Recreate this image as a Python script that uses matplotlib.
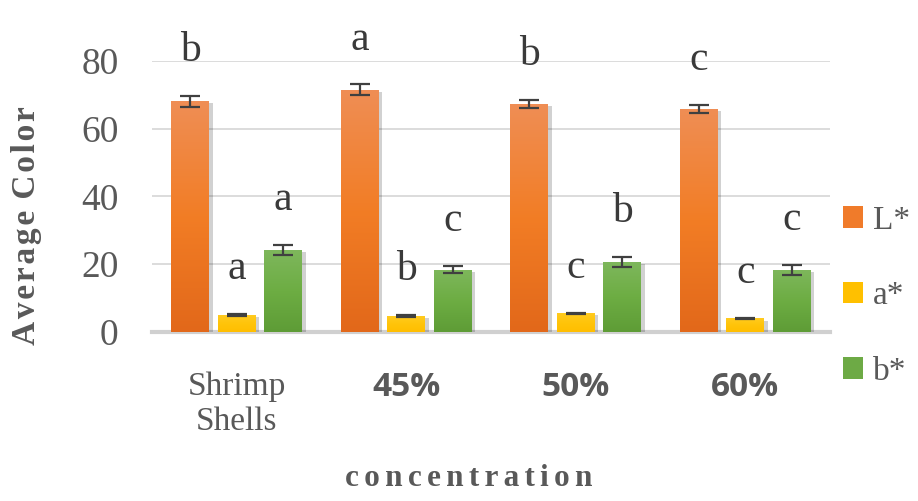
import numpy as np
import matplotlib
matplotlib.use("Agg")
import matplotlib.pyplot as plt
import matplotlib.patheffects as pe
from matplotlib.patches import Patch
from matplotlib.colors import LinearSegmentedColormap

categories = ["Shrimp\nShells", "45%", "50%", "60%"]
series_names = ["L*", "a*", "b*"]
L_vals = [68.0, 71.5, 67.3, 65.8]
L_err = [1.6, 1.5, 1.2, 1.1]
a_vals = [5.0, 4.7, 5.5, 4.0]
a_err = [0.3, 0.2, 0.2, 0.2]
b_vals = [24.1, 18.4, 20.6, 18.4]
b_err = [1.5, 1.0, 1.5, 1.5]
L_letters = ["b", "a", "b", "c"]
a_letters = ["a", "b", "c", "c"]
b_letters = ["a", "c", "b", "c"]
yticks = [0, 20, 40, 60, 80]

values = [L_vals, a_vals, b_vals]
errors = [L_err, a_err, b_err]
letters = [L_letters, a_letters, b_letters]
gradients = [("#EF8E55", "#F27D25", "#E2681A"),
             ("#FFCB20", "#FFC40A", "#FFBE00"),
             ("#7EB75C", "#6DAD43", "#5E9C36")]
base_colors = ["#F07B2A", "#FFC000", "#6DAA45"]

TXT = "#595959"
SERIF = ["Liberation Serif", "DejaVu Serif"]
fig = plt.figure(figsize=(9.18, 5.01), dpi=100)
ax = fig.add_axes([152/918, 1-332/501, 678/918, (332-60.7)/501])

x = np.arange(len(categories))
width = 0.224
step = 0.274
ax.set_xlim(-0.5, 3.5)
ax.set_ylim(0, 80)

for i in range(3):
    pos = x + (i - 1) * step
    bars = ax.bar(pos, values[i], width, color=base_colors[i], zorder=3,
                  path_effects=[pe.SimplePatchShadow(offset=(2.5, -1.5), shadow_rgbFace="#000000", alpha=0.18),
                                pe.Normal()])
    cmap = LinearSegmentedColormap.from_list("g%d" % i, list(gradients[i]))
    grad = np.linspace(0, 1, 256).reshape(-1, 1)
    for b in bars:
        x0, y0 = b.get_x(), b.get_y()
        w, h = b.get_width(), b.get_height()
        im = ax.imshow(grad, cmap=cmap, aspect="auto", origin="upper",
                       extent=[x0, x0 + w, y0, y0 + h], zorder=3.5)
        im.set_clip_path(b)
    ax.errorbar(pos, values[i], yerr=errors[i], fmt="none", ecolor="#404040",
                elinewidth=1.6, capsize=7, capthick=1.6, zorder=5)
    for p, v, e, t in zip(pos, values[i], errors[i], letters[i]):
        ax.text(p, v + e + 10.3, t, ha="center", va="baseline", fontsize=30,
                family=SERIF, color="#3A3A3A", zorder=6, clip_on=False)

ax.set_xlim(-0.5, 3.5)
ax.set_ylim(0, 80)
ax.set_yticks(yticks)
ax.set_yticklabels([str(t) for t in yticks], family=SERIF, fontsize=27, color=TXT)
ax.tick_params(axis="y", length=0, pad=24)
ax.set_xticks(x)
ax.set_xticklabels([])
ax.tick_params(axis="x", length=0)
xt = ax.get_xaxis_transform()
for k, lab in enumerate(categories):
    if k == 0:
        ax.text(x[k], -0.266, lab, transform=xt, ha="center", va="center",
                family=SERIF, fontsize=24, linespacing=1.2, color=TXT, clip_on=False)
    else:
        ax.text(x[k], -0.203, lab, transform=xt, ha="center", va="center",
                family="Open Sans", fontweight="bold", fontsize=24, color=TXT, clip_on=False)

ax.grid(axis="y", color="#D9D9D9", linewidth=1.3, zorder=0)
ax.set_axisbelow(True)
for s in ["top", "right", "left"]:
    ax.spines[s].set_visible(False)
ax.spines["bottom"].set_color("#D0D0D0")
ax.spines["bottom"].set_linewidth(3)
ax.spines["bottom"].set_zorder(2)

hs = "\u200A"
ylab = hs.join(list("Average")) + hs + " " + hs.join(list("Color"))
fig.text(27/918, 1-226/501, ylab, rotation=90, ha="center", va="center",
         family=SERIF, fontweight="bold", fontsize=24, color=TXT)
xlab = (hs * 2).join(list("concentration"))
fig.text(469/918, 1-486/501, xlab, ha="center", va="baseline",
         family=SERIF, fontweight="bold", fontsize=22.5, color=TXT)

handles = [Patch(facecolor=base_colors[i], edgecolor="none") for i in range(3)]
leg = fig.legend(handles, series_names, loc="center left",
                 bbox_to_anchor=(843/918, 1-296/501), frameon=False,
                 prop={"family": SERIF, "size": 24},
                 handlelength=0.6, handleheight=0.6, handletextpad=0.3,
                 labelspacing=1.35, borderaxespad=0, borderpad=0)
for t in leg.get_texts():
    t.set_color(TXT)

fig.savefig("out.png", dpi=100)
